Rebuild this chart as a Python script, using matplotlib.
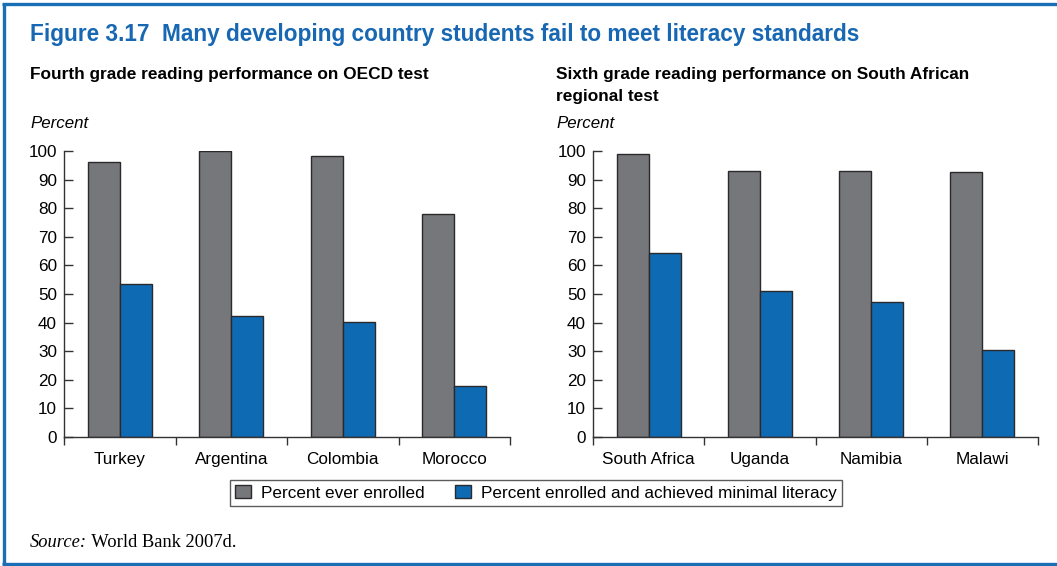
import matplotlib
matplotlib.use("Agg")
import matplotlib.pyplot as plt
from matplotlib.lines import Line2D
from matplotlib.patches import Patch
import numpy as np

plt.rcParams['font.family'] = ['Liberation Sans', 'DejaVu Sans']

# ---- data ----
left_categories = ["Turkey", "Argentina", "Colombia", "Morocco"]
left_enrolled = [96.3, 100, 98.2, 77.8]
left_literate = [53.4, 42.2, 40.1, 17.7]

right_categories = ["South Africa", "Uganda", "Namibia", "Malawi"]
right_enrolled = [99.1, 93.1, 93.1, 92.5]
right_literate = [64.5, 51.0, 47.3, 30.3]

series_names = ["Percent ever enrolled", "Percent enrolled and achieved minimal literacy"]
yticks = [0, 10, 20, 30, 40, 50, 60, 70, 80, 90, 100]

title = "Figure 3.17  Many developing country students fail to meet literacy standards"
left_subtitle = "Fourth grade reading performance on OECD test"
right_subtitle = "Sixth grade reading performance on South African\nregional test"

GRAY = "#76777b"
BLUE = "#0f6ab4"
EDGE = "#2a2a2a"
FRAME = "#1a6eb6"
TITLE_BLUE = "#1767b2"

W, H = 1057, 566
fig = plt.figure(figsize=(W / 100, H / 100), dpi=100)


def px_axes(x0, x1, ytop, ybot):
    return fig.add_axes([x0 / W, 1 - ybot / H, (x1 - x0) / W, (ybot - ytop) / H])


def draw_panel(ax, cats, enrolled, literate):
    x = np.arange(len(cats))
    bw = 0.287
    ax.bar(x - bw / 2, enrolled, bw, color=GRAY, edgecolor=EDGE, linewidth=1.0)
    ax.bar(x + bw / 2, literate, bw, color=BLUE, edgecolor=EDGE, linewidth=1.0)
    ax.set_xlim(-0.5, len(cats) - 0.5)
    ax.set_ylim(0, 100)
    ax.set_yticks(yticks)
    ax.tick_params(axis='y', direction='in', length=6.5, width=1.0, color='#333333',
                   labelsize=12.3, pad=5)
    ax.set_xticks(x)
    ax.set_xticklabels(cats, fontsize=12.3)
    ax.tick_params(axis='x', which='major', length=0, pad=11)
    ax.set_xticks(np.arange(len(cats) + 1) - 0.5, minor=True)
    ax.tick_params(axis='x', which='minor', direction='out', length=5.5, width=1.0, color='#333333')
    for s in ['top', 'right']:
        ax.spines[s].set_visible(False)
    for s in ['left', 'bottom']:
        ax.spines[s].set_color('#333333')
        ax.spines[s].set_linewidth(1.0)
    ax.set_axisbelow(True)


axL = px_axes(64, 510, 151, 437)
draw_panel(axL, left_categories, left_enrolled, left_literate)
axR = px_axes(593, 1038, 151, 437)
draw_panel(axR, right_categories, right_enrolled, right_literate)

# titles
fig.text(30 / W, 1 - 34 / H, title, color=TITLE_BLUE, fontsize=16.3, fontweight='bold',
         va='center', ha='left')
fig.text(30 / W, 1 - 74 / H, left_subtitle, fontsize=12.4, fontweight='bold', va='center', ha='left')
fig.text(556 / W, 1 - 74 / H, right_subtitle.split("\n")[0], fontsize=12.4, fontweight='bold',
         va='center', ha='left')
fig.text(556 / W, 1 - 96 / H, right_subtitle.split("\n")[1], fontsize=12.4, fontweight='bold',
         va='center', ha='left')
fig.text(30 / W, 1 - 124 / H, "Percent", fontsize=12.2, style='italic', va='center', ha='left')
fig.text(556 / W, 1 - 124 / H, "Percent", fontsize=12.2, style='italic', va='center', ha='left')

# legend
handles = [Patch(facecolor=GRAY, edgecolor=EDGE, linewidth=1.0),
           Patch(facecolor=BLUE, edgecolor=EDGE, linewidth=1.0)]
leg = fig.legend(handles, series_names, loc='center', bbox_to_anchor=(536 / W, 1 - 493 / H),
                 ncol=2, fontsize=12.3, frameon=True, fancybox=False, handlelength=0.9,
                 handleheight=0.8, handletextpad=0.6, columnspacing=1.8, borderpad=0.3,
                 borderaxespad=0)
leg.get_frame().set_edgecolor('#333333')
leg.get_frame().set_linewidth(1.0)

# source
t1 = fig.text(30 / W, 1 - 547 / H, "Source:", family='Liberation Serif', style='italic',
              fontsize=13.3, va='baseline', ha='left')
ann = plt.annotate(" World Bank 2007d.", xy=(1, 0), xycoords=t1, fontsize=13.3,
                   family='Liberation Serif', va='bottom', ha='left', annotation_clip=False)

# frame lines
fig.add_artist(Line2D([3.5 / W, 3.5 / W], [1 - 4 / H, 1 - 564 / H], color=FRAME, lw=2.4,
                      transform=fig.transFigure, solid_capstyle='butt'))
fig.add_artist(Line2D([2.4 / W, 1], [1 - 4 / H, 1 - 4 / H], color=FRAME, lw=2.4,
                      transform=fig.transFigure, solid_capstyle='butt'))
fig.add_artist(Line2D([2.4 / W, 1], [1 - 564 / H, 1 - 564 / H], color=FRAME, lw=2.4,
                      transform=fig.transFigure, solid_capstyle='butt'))

fig.savefig("out.png", dpi=100)
